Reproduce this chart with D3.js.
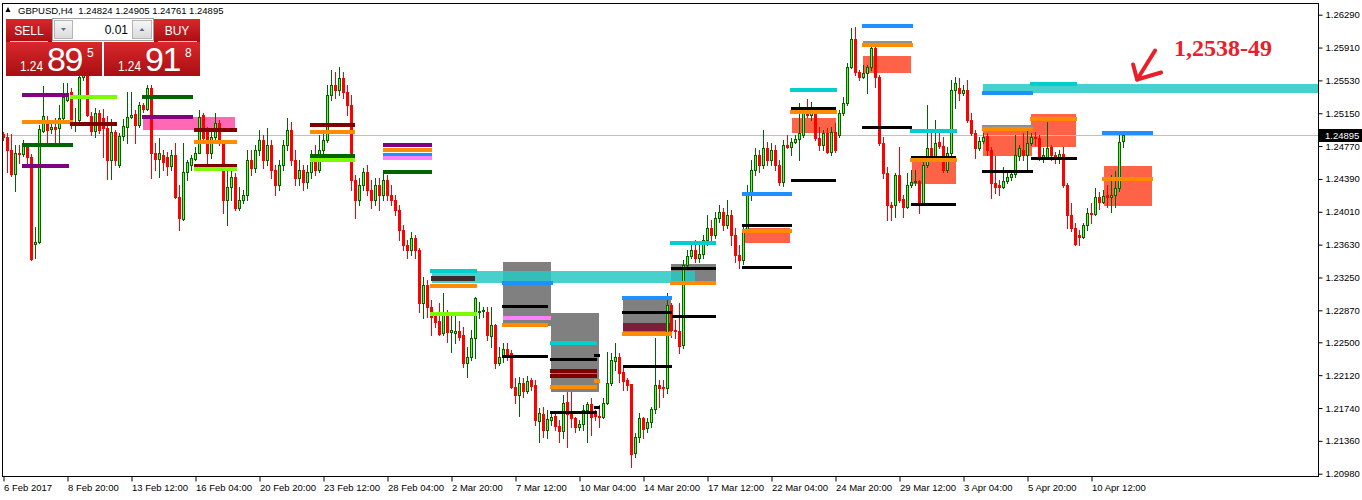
<!DOCTYPE html>
<html>
<head>
<meta charset="utf-8">
<script src="https://cdn.jsdelivr.net/npm/d3@7"></script>
<style>
  body { margin: 0; background: #fff; }
  svg { display: block; font-family: "Liberation Sans", Arial, sans-serif; }
</style>
</head>
<body>
<svg id="chart" width="1362" height="500"></svg>
<script>
// GBPUSD H4 candles (bar 0 = 6 Feb 2017)
var candleOpen = [
  1.2491,1.2488,1.2472,1.2445,1.2469,1.2468,1.2477,1.2464,1.2364,1.2366,
  1.2494,1.2505,1.2497,1.2499,1.2498,1.2509,1.2530,1.2540,1.2501,1.2507,
  1.2557,1.2565,1.2512,1.2494,1.2515,1.2509,1.2498,1.2461,1.2493,1.2455,
  1.2489,1.2499,1.2511,1.2514,1.2501,1.2524,1.2520,1.2544,1.2469,1.2462,
  1.2467,1.2464,1.2454,1.2467,1.2418,1.2393,1.2447,1.2455,1.2462,1.2469,
  1.2513,1.2493,1.2469,1.2488,1.2504,1.2484,1.2415,1.2430,1.2441,1.2405,
  1.2415,1.2420,1.2461,1.2452,1.2472,1.2484,1.2461,1.2478,1.2449,1.2432,
  1.2455,1.2478,1.2496,1.2461,1.2440,1.2449,1.2435,1.2447,1.2461,1.2449,
  1.2472,1.2484,1.2536,1.2548,1.2542,1.2556,1.2540,1.2524,1.2438,1.2415,
  1.2432,1.2447,1.2426,1.2415,1.2432,1.2420,1.2438,1.2420,1.2415,1.2403,
  1.2380,1.2362,1.2357,1.2371,1.2357,1.2295,1.2316,1.2291,1.2282,1.2275,
  1.2261,1.2282,1.2262,1.2261,1.2263,1.2258,1.2226,1.2233,1.2255,1.2285,
  1.2286,1.2285,1.2257,1.2270,1.2226,1.2233,1.2242,1.2238,1.2198,1.2189,
  1.2203,1.2194,1.2206,1.2201,1.2159,1.2167,1.2149,1.2160,1.2165,1.2153,
  1.2147,1.2181,1.2167,1.2162,1.2152,1.2155,1.2172,1.2179,1.2168,1.2165,
  1.2164,1.2180,1.2203,1.2228,1.2233,1.2216,1.2206,1.2202,1.2122,1.2140,
  1.2162,1.2151,1.2158,1.2173,1.2201,1.2198,1.2197,1.2293,1.2264,1.2263,
  1.2247,1.2339,1.2350,1.2357,1.2347,1.2352,1.2368,1.2382,1.2374,1.2394,
  1.2401,1.2386,1.2397,1.2374,1.2351,1.2345,1.2380,1.2420,1.2449,1.2467,
  1.2455,1.2475,1.2461,1.2472,1.2455,1.2435,1.2478,1.2476,1.2482,1.2485,
  1.2490,1.2515,1.2513,1.2515,1.2486,1.2478,1.2492,1.2470,1.2493,1.2490,
  1.2515,1.2527,1.2568,1.2601,1.2563,1.2557,1.2562,1.2568,1.2590,1.2557,
  1.2480,1.2446,1.2409,1.2409,1.2443,1.2416,1.2406,1.2432,1.2435,1.2437,
  1.2411,1.2455,1.2475,1.2464,1.2482,1.2477,1.2449,1.2469,1.2542,1.2544,
  1.2538,1.2542,1.2507,1.2492,1.2475,1.2483,1.2489,1.2472,1.2434,1.2432,
  1.2430,1.2437,1.2441,1.2445,1.2466,1.2472,1.2467,1.2480,1.2488,1.2486,
  1.2463,1.2464,1.2476,1.2467,1.2463,1.2468,1.2432,1.2397,1.2382,1.2374,
  1.2372,1.2386,1.2400,1.2398,1.2418,1.2412,1.2420,1.2418,1.2420,1.2428,
  1.24824
];
var candleHigh = [
  1.2493,1.2492,1.2491,1.2478,1.2478,1.2484,1.2479,1.2468,1.2383,1.2501,
  1.2546,1.2512,1.2505,1.2509,1.2524,1.2550,1.2550,1.2544,1.2521,1.2577,
  1.2582,1.2571,1.2516,1.2521,1.2519,1.2520,1.2512,1.2508,1.2496,1.2492,
  1.2508,1.2540,1.2540,1.2519,1.2528,1.2527,1.2548,1.2548,1.2480,1.2486,
  1.2472,1.2470,1.2472,1.2480,1.2432,1.2480,1.2461,1.2467,1.2476,1.2519,
  1.2515,1.2499,1.2496,1.2515,1.2507,1.2484,1.2453,1.2449,1.2446,1.2430,
  1.2426,1.2472,1.2472,1.2478,1.2496,1.2490,1.2498,1.2484,1.2455,1.2461,
  1.2484,1.2509,1.2505,1.2472,1.2461,1.2455,1.2455,1.2472,1.2478,1.2490,
  1.2496,1.2548,1.2565,1.2563,1.2568,1.2563,1.2548,1.2536,1.2443,1.2440,
  1.2452,1.2455,1.2438,1.2440,1.2440,1.2447,1.2443,1.2432,1.2420,1.2409,
  1.2386,1.2368,1.2378,1.2374,1.2359,1.2326,1.2322,1.2299,1.2285,1.2295,
  1.2307,1.2287,1.2282,1.2282,1.2275,1.2268,1.2245,1.2264,1.2302,1.2297,
  1.2291,1.2291,1.2291,1.2271,1.2245,1.2249,1.2249,1.2241,1.2209,1.2210,
  1.2209,1.2211,1.2209,1.2206,1.2174,1.2175,1.2172,1.2168,1.2168,1.2160,
  1.2189,1.2193,1.2193,1.2164,1.2160,1.2177,1.2181,1.2186,1.2172,1.2177,
  1.2186,1.2239,1.2238,1.2249,1.2238,1.2224,1.2209,1.2202,1.2145,1.2168,
  1.2164,1.2162,1.2175,1.2255,1.2206,1.2206,1.2307,1.2295,1.2276,1.2295,
  1.2345,1.2357,1.2363,1.2368,1.2363,1.2374,1.2397,1.2392,1.2401,1.2409,
  1.2405,1.2415,1.2403,1.2382,1.2363,1.2386,1.2432,1.2461,1.2475,1.2472,
  1.2496,1.2482,1.2480,1.2478,1.2461,1.2484,1.2490,1.2486,1.2490,1.2527,
  1.2522,1.2531,1.2528,1.2516,1.2499,1.2496,1.2498,1.2499,1.2504,1.2519,
  1.2534,1.2573,1.2614,1.2615,1.2565,1.2571,1.2571,1.2592,1.2592,1.2559,
  1.2488,1.2453,1.2412,1.2446,1.2476,1.2420,1.2446,1.2449,1.2449,1.2438,
  1.2461,1.2524,1.2492,1.2507,1.2496,1.2488,1.2476,1.2553,1.2557,1.2556,
  1.2548,1.2553,1.2515,1.2496,1.2488,1.2492,1.2492,1.2476,1.2466,1.2438,
  1.2453,1.2446,1.2449,1.2490,1.2478,1.2492,1.2496,1.2492,1.2493,1.2490,
  1.2475,1.2505,1.2478,1.2470,1.2472,1.2476,1.2434,1.2411,1.2388,1.2380,
  1.2388,1.2405,1.2411,1.2428,1.2424,1.2426,1.2432,1.2443,1.2448,1.2490,
  1.24905
];
var candleLow = [
  1.2484,1.2447,1.2442,1.2425,1.2457,1.2466,1.2457,1.2345,1.2347,1.2365,
  1.2493,1.2480,1.2492,1.2478,1.2480,1.2507,1.2529,1.2498,1.2494,1.2505,
  1.2553,1.2512,1.2490,1.2488,1.2492,1.2464,1.2439,1.2439,1.2455,1.2453,
  1.2484,1.2480,1.2509,1.2480,1.2499,1.2516,1.2519,1.2440,1.2449,1.2441,
  1.2449,1.2444,1.2449,1.2417,1.2380,1.2391,1.2438,1.2449,1.2461,1.2469,
  1.2480,1.2457,1.2463,1.2484,1.2478,1.2400,1.2386,1.2415,1.2403,1.2403,
  1.2411,1.2415,1.2443,1.2447,1.2467,1.2452,1.2455,1.2440,1.2420,1.2426,
  1.2449,1.2472,1.2455,1.2432,1.2432,1.2426,1.2428,1.2440,1.2443,1.2447,
  1.2467,1.2482,1.2530,1.2533,1.2536,1.2533,1.2513,1.2426,1.2394,1.2409,
  1.2426,1.2420,1.2405,1.2409,1.2403,1.2415,1.2415,1.2409,1.2397,1.2368,
  1.2357,1.2347,1.2351,1.2347,1.2285,1.2278,1.2279,1.2258,1.2268,1.2258,
  1.2258,1.2250,1.2239,1.2249,1.2253,1.2221,1.2210,1.2230,1.2232,1.2278,
  1.2279,1.2253,1.2245,1.2220,1.2224,1.2227,1.2230,1.2197,1.2180,1.2165,
  1.2187,1.2191,1.2195,1.2154,1.2135,1.2140,1.2139,1.2154,1.2149,1.2135,
  1.2139,1.2129,1.2152,1.2146,1.2149,1.2149,1.2135,1.2143,1.2160,1.2152,
  1.2162,1.2179,1.2201,1.2218,1.2204,1.2195,1.2195,1.2106,1.2117,1.2135,
  1.2139,1.2146,1.2152,1.2168,1.2175,1.2187,1.2191,1.2256,1.2255,1.2238,
  1.2243,1.2337,1.2347,1.2343,1.2343,1.2347,1.2363,1.2368,1.2371,1.2389,
  1.2380,1.2382,1.2363,1.2343,1.2336,1.2341,1.2378,1.2415,1.2443,1.2447,
  1.2452,1.2455,1.2455,1.2449,1.2432,1.2431,1.2475,1.2467,1.2480,1.2461,
  1.2488,1.2511,1.2507,1.2484,1.2472,1.2472,1.2469,1.2467,1.2470,1.2488,
  1.2513,1.2524,1.2567,1.2559,1.2553,1.2556,1.2538,1.2565,1.2545,1.2478,
  1.2440,1.2392,1.2392,1.2395,1.2412,1.2395,1.2405,1.2430,1.2432,1.2400,
  1.2409,1.2453,1.2463,1.2463,1.2475,1.2447,1.2447,1.2467,1.2521,1.2530,
  1.2536,1.2505,1.2490,1.2463,1.2472,1.2480,1.2467,1.2417,1.2423,1.2420,
  1.2428,1.2434,1.2438,1.2441,1.2461,1.2461,1.2449,1.2478,1.2478,1.2461,
  1.2459,1.2463,1.2461,1.2457,1.2457,1.2430,1.2382,1.2379,1.2362,1.2362,
  1.2371,1.2380,1.2388,1.2397,1.2404,1.2411,1.2406,1.2401,1.2406,1.2425,
  1.24761
];
var candleClose = [
  1.2488,1.2472,1.2445,1.2469,1.2468,1.2478,1.2464,1.2346,1.2366,1.2497,
  1.2512,1.2496,1.2499,1.2497,1.2509,1.2534,1.2538,1.2501,1.2505,1.2557,
  1.2571,1.2513,1.2494,1.2515,1.2496,1.2498,1.2461,1.2493,1.2461,1.2489,
  1.2500,1.2511,1.2513,1.2501,1.2524,1.2520,1.2544,1.2469,1.2462,1.2469,
  1.2459,1.2454,1.2467,1.2418,1.2394,1.2447,1.2459,1.2463,1.2469,1.2511,
  1.2486,1.2469,1.2488,1.2504,1.2484,1.2415,1.2430,1.2441,1.2405,1.2415,
  1.2420,1.2461,1.2452,1.2472,1.2484,1.2461,1.2478,1.2449,1.2432,1.2455,
  1.2478,1.2496,1.2461,1.2440,1.2449,1.2435,1.2447,1.2461,1.2449,1.2472,
  1.2484,1.2536,1.2548,1.2542,1.2556,1.2540,1.2524,1.2438,1.2415,1.2432,
  1.2447,1.2426,1.2415,1.2432,1.2420,1.2438,1.2420,1.2415,1.2403,1.2380,
  1.2362,1.2357,1.2371,1.2357,1.2295,1.2316,1.2291,1.2279,1.2273,1.2260,
  1.2282,1.2262,1.2264,1.2263,1.2256,1.2226,1.2233,1.2255,1.2301,1.2286,
  1.2287,1.2258,1.2270,1.2226,1.2233,1.2242,1.2233,1.2198,1.2189,1.2203,
  1.2194,1.2205,1.2199,1.2160,1.2168,1.2149,1.2161,1.2164,1.2153,1.2147,
  1.2180,1.2167,1.2162,1.2152,1.2155,1.2172,1.2179,1.2164,1.2165,1.2164,
  1.2180,1.2203,1.2230,1.2233,1.2214,1.2205,1.2201,1.2121,1.2140,1.2162,
  1.2150,1.2158,1.2173,1.2201,1.2197,1.2197,1.2293,1.2264,1.2263,1.2246,
  1.2339,1.2350,1.2357,1.2347,1.2352,1.2368,1.2382,1.2374,1.2394,1.2401,
  1.2386,1.2397,1.2374,1.2351,1.2345,1.2380,1.2420,1.2449,1.2467,1.2455,
  1.2475,1.2461,1.2472,1.2455,1.2435,1.2478,1.2476,1.2482,1.2485,1.2492,
  1.2515,1.2513,1.2515,1.2486,1.2478,1.2492,1.2470,1.2493,1.2472,1.2515,
  1.2527,1.2568,1.2601,1.2563,1.2557,1.2562,1.2568,1.2590,1.2557,1.2480,
  1.2446,1.2409,1.2406,1.2443,1.2415,1.2406,1.2432,1.2435,1.2437,1.2411,
  1.2455,1.2475,1.2464,1.2480,1.2477,1.2449,1.2469,1.2542,1.2550,1.2538,
  1.2542,1.2507,1.2492,1.2475,1.2483,1.2488,1.2472,1.2434,1.2430,1.2430,
  1.2437,1.2441,1.2445,1.2467,1.2475,1.2467,1.2480,1.2488,1.2486,1.2463,
  1.2467,1.2475,1.2467,1.2463,1.2468,1.2432,1.2397,1.2382,1.2364,1.2372,
  1.2386,1.2400,1.2398,1.2418,1.2412,1.2419,1.2418,1.2420,1.2428,1.2482,
  1.24895
];

var lastPrice = 1.24895;
var headerText = "GBPUSD,H4  1.24824 1.24905 1.24761 1.24895";

var priceTicks = [1.20980, 1.21360, 1.21740, 1.22120, 1.22500, 1.22870, 1.23250, 1.23630,
                  1.24010, 1.24390, 1.24770, 1.25150, 1.25530, 1.25910, 1.26290];
var timeTickBars = [0, 16, 32, 48, 64, 80, 96, 112, 128, 144, 160, 176, 192, 208, 224, 240, 256, 272];
var timeLabels = ["6 Feb 2017", "8 Feb 20:00", "13 Feb 12:00", "16 Feb 04:00", "20 Feb 20:00",
  "23 Feb 12:00", "28 Feb 04:00", "2 Mar 20:00", "7 Mar 12:00", "10 Mar 04:00", "14 Mar 20:00",
  "17 Mar 12:00", "22 Mar 04:00", "24 Mar 20:00", "29 Mar 12:00", "3 Apr 04:00", "5 Apr 20:00",
  "10 Apr 12:00"];

// horizontal levels: [from bar, to bar, price, kind]
var levelLines = [
  [4.6, 16.4, 1.2536, 'purple'], [16.6, 28.4, 1.2534, 'lime'], [4.6, 17.4, 1.2505, 'orange'],
  [16.6, 28.4, 1.2502, 'maroon'], [4.6, 17.4, 1.2478, 'darkgreen'], [4.6, 16.4, 1.2454, 'purple'],
  [34.6, 47.4, 1.2534, 'darkgreen'], [34.6, 47.4, 1.2511, 'purple'], [47.6, 58.4, 1.2496, 'maroon'],
  [47.6, 58.4, 1.2482, 'orange'], [47.6, 58.4, 1.2454, 'maroon'], [47.6, 58.4, 1.2450, 'lime'],
  [76.6, 87.9, 1.2501, 'maroon'], [76.6, 87.9, 1.2493, 'orange'], [76.6, 87.9, 1.2465, 'darkgreen'],
  [76.6, 87.9, 1.2461, 'lime'],
  [94.9, 107.1, 1.2478, 'purple'], [94.9, 107.1, 1.2472, 'orange'], [94.9, 107.1, 1.2467, 'dodger'],
  [94.9, 107.1, 1.2463, 'violet'], [94.9, 107.1, 1.2447, 'darkgreen'],
  [106.6, 118.4, 1.2333, 'aqua'], [106.6, 118.4, 1.2315, 'orange'], [106.6, 118.4, 1.2283, 'lime'],
  [124.6, 137.4, 1.2319, 'dodger'], [124.6, 136.1, 1.2292, 'black'], [124.9, 136.9, 1.2278, 'violet'],
  [124.6, 136.1, 1.2270, 'orange'], [124.6, 136.1, 1.2234, 'black'],
  [136.6, 148.4, 1.2249, 'aqua'], [136.6, 148.4, 1.2230, 'black'], [136.6, 148.4, 1.2217, 'maroon'],
  [136.6, 148.4, 1.2211, 'maroon'], [136.6, 148.4, 1.2198, 'orange'], [136.6, 148.4, 1.2169, 'black'],
  [147.6, 149.1, 1.2235, 'black'], [147.6, 149.1, 1.2205, 'orange'], [147.6, 149.1, 1.2175, 'black'],
  [154.6, 167.1, 1.2301, 'dodger'], [154.6, 167.1, 1.2284, 'black'], [154.6, 167.1, 1.2260, 'orange'],
  [154.9, 167.1, 1.2222, 'black'],
  [166.6, 178.1, 1.2365, 'aqua'], [166.9, 178.1, 1.2335, 'black'], [166.6, 178.1, 1.2319, 'orange'],
  [167.1, 178.1, 1.2280, 'black'],
  [184.6, 197.1, 1.2421, 'dodger'], [184.6, 197.1, 1.2385, 'black'], [184.6, 197.1, 1.2379, 'orange'],
  [184.6, 197.1, 1.2336, 'black'],
  [196.6, 208.4, 1.2542, 'aqua'], [196.9, 208.1, 1.2520, 'black'], [196.6, 208.4, 1.2517, 'orange'],
  [196.9, 208.1, 1.2437, 'black'],
  [214.6, 227.4, 1.2616, 'dodger'], [214.9, 227.1, 1.2597, 'gray'], [214.6, 227.4, 1.2594, 'orange'],
  [214.6, 227.1, 1.2498, 'black'],
  [226.6, 238.4, 1.2495, 'aqua'], [226.9, 238.1, 1.2464, 'black'], [226.6, 238.4, 1.2461, 'orange'],
  [226.9, 238.1, 1.2410, 'black'],
  [244.6, 257.4, 1.2538, 'dodger'], [244.6, 257.4, 1.2500, 'gray'], [244.6, 257.4, 1.2497, 'orange'],
  [244.6, 257.4, 1.2448, 'black'],
  [256.6, 268.4, 1.2549, 'aqua'], [256.6, 268.4, 1.2508, 'orange'], [256.9, 268.4, 1.2463, 'black'],
  [274.6, 287.4, 1.2492, 'dodger'], [274.6, 287.4, 1.2439, 'orange']
];

// shaded zones: [from bar, to bar, top price, bottom price, kind]
var zoneBoxes = [
  [34.9, 57.9, 1.2511, 1.2496, 'pink'],
  [124.9, 136.9, 1.2343, 1.2269, 'gray'],
  [136.9, 148.9, 1.2284, 1.2192, 'gray'],
  [154.9, 166.9, 1.2299, 1.2262, 'gray'],
  [166.9, 178.1, 1.2341, 1.2320, 'gray'],
  [185.4, 196.6, 1.2382, 1.2365, 'tomato'],
  [197.1, 208.1, 1.2509, 1.2492, 'tomato'],
  [214.9, 226.9, 1.2581, 1.2562, 'tomato'],
  [227.1, 238.1, 1.2461, 1.2433, 'tomato'],
  [244.9, 257.1, 1.2501, 1.2466, 'tomato'],
  [256.9, 268.1, 1.2514, 1.2476, 'tomato'],
  [275.1, 287.1, 1.2454, 1.2408, 'tomato'],
  [107.1, 172.9, 1.2333, 1.2319, 'turq'],
  [244.9, 330, 1.2549, 1.2538, 'turq'],
  [106.9, 117.9, 1.2327, 1.2321, 'dark'],
  [154.9, 166.9, 1.2272, 1.2263, 'wine']
];

var noteText = "1,2538-49";
var notePrice = 1.2554;
var noteBar = 283.4;

var sellPrice = ["1.24", "89", "5"];
var buyPrice = ["1.24", "91", "8"];
var lotSize = "0.01";

var svg = d3.select('#chart');
var frame = { left: 2.5, top: 3.5, right: 1318.5, bottom: 476.5 };

var x = d3.scaleLinear().domain([0, 280]).range([3.5, 1123.5]);
var y = d3.scaleLinear().domain([1.20980, 1.26290]).range([473.7, 14.7]);

var lineColor = d3.scaleOrdinal()
  .domain(['purple', 'orange', 'darkgreen', 'lime', 'maroon', 'black', 'dodger', 'aqua', 'violet', 'gray'])
  .range(['#800080', '#ff8c00', '#006400', '#7cfc00', '#800000', '#000000', '#1e90ff', '#00ced1', '#ff80ff', '#909090']);
var zoneColor = d3.scaleOrdinal()
  .domain(['pink', 'gray', 'tomato', 'turq', 'dark', 'wine'])
  .range(['#ff69b4', '#808080', '#ff6347', '#28c9c3', '#3b2c2c', '#7d1e3b']);

var defs = svg.append('defs');
defs.append('clipPath').attr('id', 'plotClip').append('rect')
  .attr('x', frame.left).attr('y', frame.top)
  .attr('width', frame.right - frame.left).attr('height', frame.bottom - frame.top);

var grad = defs.append('linearGradient').attr('id', 'redGrad').attr('x1', 0).attr('y1', 0).attr('x2', 0).attr('y2', 1);
grad.append('stop').attr('offset', '0%').attr('stop-color', '#d8282b');
grad.append('stop').attr('offset', '100%').attr('stop-color', '#a90e12');
var grayGrad = defs.append('linearGradient').attr('id', 'grayGrad').attr('x1', 0).attr('y1', 0).attr('x2', 0).attr('y2', 1);
grayGrad.append('stop').attr('offset', '0%').attr('stop-color', '#f7f7f7');
grayGrad.append('stop').attr('offset', '100%').attr('stop-color', '#d9d9d9');

var plotG = svg.append('g').attr('clip-path', 'url(#plotClip)').attr('shape-rendering', 'crispEdges');

function zoneRects(layer, list) {
  layer.selectAll('rect').data(list).enter().append('rect')
    .attr('x', function (d) { return Math.round(x(d[0])); })
    .attr('width', function (d) { return Math.round(x(d[1])) - Math.round(x(d[0])); })
    .attr('y', function (d) { return Math.round(y(d[2])); })
    .attr('height', function (d) { return Math.max(1, Math.round(y(d[3])) - Math.round(y(d[2]))); })
    .attr('fill', function (d) { return zoneColor(d[4]); })
    .attr('fill-opacity', function (d) { return d[4] === 'turq' ? 0.85 : 1; });
}

zoneRects(plotG.append('g'), zoneBoxes.filter(function (d) { return ['pink', 'gray', 'tomato'].indexOf(d[4]) >= 0; }));
zoneRects(plotG.append('g'), zoneBoxes.filter(function (d) { return d[4] === 'turq'; }));
zoneRects(plotG.append('g'), zoneBoxes.filter(function (d) { return d[4] === 'dark' || d[4] === 'wine'; }));

// current price line
plotG.append('line')
  .attr('x1', frame.left).attr('x2', frame.right)
  .attr('y1', Math.round(y(lastPrice)) + 0.5).attr('y2', Math.round(y(lastPrice)) + 0.5)
  .attr('stroke', '#c0c0c0');

// candles
var candles = candleClose.map(function (c, i) {
  return { i: i, o: candleOpen[i], h: candleHigh[i], l: candleLow[i], c: c };
});
var cg = plotG.append('g');
cg.selectAll('line').data(candles).enter().append('line')
  .attr('x1', function (d) { return x(d.i); })
  .attr('x2', function (d) { return x(d.i); })
  .attr('y1', function (d) { return Math.round(y(d.h)); })
  .attr('y2', function (d) { return Math.round(y(d.l)) + 1; })
  .attr('stroke', function (d) { return d.c >= d.o ? '#006400' : '#ff0000'; });

cg.selectAll('rect').data(candles).enter().append('rect')
  .each(function (d) {
    var top = Math.round(y(Math.max(d.o, d.c)));
    var bot = Math.round(y(Math.min(d.o, d.c)));
    var el = d3.select(this);
    if (d.c >= d.o) {
      el.attr('x', x(d.i) - 1).attr('y', top + 0.5)
        .attr('width', 2).attr('height', Math.max(bot - top, 1))
        .attr('fill', '#7cfc00').attr('stroke', '#006400');
    } else {
      el.attr('x', x(d.i) - 1.5).attr('y', top)
        .attr('width', 3).attr('height', Math.max(bot - top, 1) + 1)
        .attr('fill', '#ff0000');
    }
  });

// level lines on top
function thick(d) { return d[3] === 'black' ? 3 : (d[3] === 'gray' ? 2 : 4); }
plotG.append('g').selectAll('rect').data(levelLines).enter().append('rect')
  .attr('x', function (d) { return Math.round(x(d[0])); })
  .attr('width', function (d) { return Math.round(x(d[1])) - Math.round(x(d[0])); })
  .attr('y', function (d) { return Math.round(y(d[2]) - thick(d) / 2); })
  .attr('height', thick)
  .attr('fill', function (d) { return lineColor(d[3]); });

// frame
svg.append('rect')
  .attr('x', frame.left).attr('y', frame.top)
  .attr('width', frame.right - frame.left).attr('height', frame.bottom - frame.top)
  .attr('fill', 'none').attr('stroke', '#000');

// price axis
var yAxis = svg.append('g')
  .attr('transform', 'translate(' + frame.right + ',0)')
  .call(d3.axisRight(y).tickValues(priceTicks).tickFormat(d3.format('.5f')).tickSize(4).tickPadding(3));
yAxis.select('.domain').remove();
yAxis.selectAll('text').attr('font-size', '9.5px').attr('font-family', '"Liberation Sans", Arial, sans-serif').attr('fill', '#000');
yAxis.selectAll('line').attr('stroke', '#000');

// last price tag
var tagY = Math.round(y(lastPrice));
svg.append('rect').attr('x', 1319).attr('y', tagY - 6).attr('width', 43).attr('height', 13).attr('fill', '#000');
svg.append('text').attr('x', 1325).attr('y', tagY + 4).attr('fill', '#fff')
  .attr('font-size', '9.5px').text(d3.format('.5f')(lastPrice));

// time axis
var xAxis = svg.append('g')
  .attr('transform', 'translate(0,' + frame.bottom + ')')
  .call(d3.axisBottom(x).tickValues(timeTickBars).tickFormat(function (d, i) { return timeLabels[i]; }).tickSize(5).tickPadding(3));
xAxis.select('.domain').remove();
xAxis.selectAll('text').attr('text-anchor', 'start').attr('x', 0)
  .attr('font-size', '9.5px').attr('font-family', '"Liberation Sans", Arial, sans-serif').attr('fill', '#000');
xAxis.selectAll('line').attr('stroke', '#000');

// header
svg.append('path').attr('d', 'M5.5,12 L8,7 L10.5,12 Z').attr('fill', '#000');
svg.append('text').attr('x', 18).attr('y', 13.5).attr('font-size', '9.5px')
  .style('white-space', 'pre').text(headerText);

// one click trading panel
var panel = svg.append('g');
panel.append('rect').attr('x', 6).attr('y', 19).attr('width', 46).attr('height', 23).attr('fill', 'url(#redGrad)');
panel.append('rect').attr('x', 154).attr('y', 19).attr('width', 46).attr('height', 23).attr('fill', 'url(#redGrad)');
panel.append('rect').attr('x', 6).attr('y', 42).attr('width', 96).attr('height', 34).attr('fill', 'url(#redGrad)');
panel.append('rect').attr('x', 104).attr('y', 42).attr('width', 96).attr('height', 34).attr('fill', 'url(#redGrad)');
panel.append('line').attr('x1', 10).attr('x2', 48).attr('y1', 41.5).attr('y2', 41.5).attr('stroke', '#f3c0c0');
panel.append('line').attr('x1', 158).attr('x2', 197).attr('y1', 41.5).attr('y2', 41.5).attr('stroke', '#f3c0c0');
panel.append('text').attr('x', 29).attr('y', 35).attr('text-anchor', 'middle').attr('fill', '#fff').attr('font-size', '12px').text('SELL');
panel.append('text').attr('x', 177).attr('y', 35).attr('text-anchor', 'middle').attr('fill', '#fff').attr('font-size', '12px').text('BUY');

panel.append('rect').attr('x', 52.5).attr('y', 18.5).attr('width', 101).attr('height', 22).attr('fill', '#fff').attr('stroke', '#a0a0a0');
panel.append('rect').attr('x', 54.5).attr('y', 20.5).attr('width', 18).attr('height', 18).attr('fill', 'url(#grayGrad)').attr('stroke', '#b5b5b5');
panel.append('rect').attr('x', 132.5).attr('y', 20.5).attr('width', 19).attr('height', 18).attr('fill', 'url(#grayGrad)').attr('stroke', '#b5b5b5');
panel.append('path').attr('d', 'M61,28 L66,28 L63.5,31 Z').attr('fill', '#5a6f90');
panel.append('path').attr('d', 'M139.5,31 L144.5,31 L142,28 Z').attr('fill', '#5a6f90');
panel.append('text').attr('x', 128).attr('y', 34).attr('text-anchor', 'end').attr('font-size', '12px').attr('fill', '#000').text(lotSize);

function bigPrice(x0, parts) {
  panel.append('text').attr('x', x0).attr('y', 71).attr('fill', '#fff').attr('font-size', '14px')
    .attr('textLength', 23).attr('lengthAdjust', 'spacingAndGlyphs').text(parts[0]);
  panel.append('text').attr('x', x0 + 27).attr('y', 70.5).attr('fill', '#fff').attr('font-size', '34px')
    .attr('letter-spacing', '-1.5px').text(parts[1]);
  panel.append('text').attr('x', x0 + 67).attr('y', 56.5).attr('fill', '#fff').attr('font-size', '12px').text(parts[2]);
}
bigPrice(20, sellPrice);
bigPrice(118, buyPrice);

// hand annotation
var tipX = x(noteBar), tipY = y(notePrice);
var note = svg.append('g').attr('stroke', '#e8202a').attr('stroke-width', 4).attr('stroke-linecap', 'round')
  .attr('stroke-linejoin', 'round').attr('fill', 'none');
note.append('path').attr('d', 'M' + (tipX + 18) + ',' + (tipY - 29) + ' L' + tipX + ',' + tipY);
note.append('path').attr('d', 'M' + (tipX - 4) + ',' + (tipY - 15) + ' L' + tipX + ',' + tipY + ' L' + (tipX + 24) + ',' + (tipY - 7));
svg.append('text').attr('x', tipX + 37).attr('y', tipY - 24)
  .attr('font-family', '"Liberation Serif", "Times New Roman", serif').attr('font-weight', 'bold')
  .attr('font-size', '24px').attr('fill', '#e8202a').text(noteText);
</script>
</body>
</html>
